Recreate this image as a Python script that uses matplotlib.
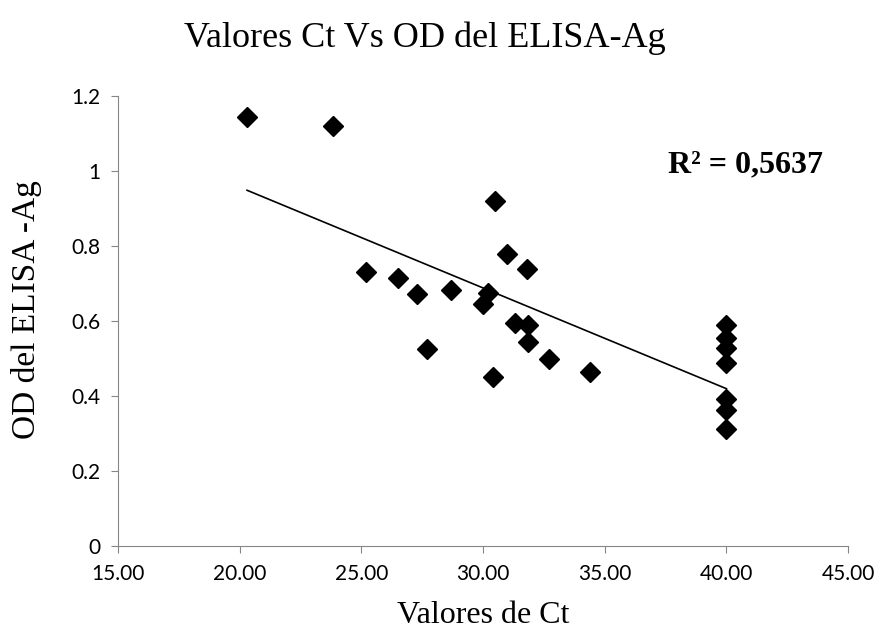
import numpy as np
import matplotlib.pyplot as plt

# Ct values vs ELISA-Ag optical density
ct = [20.3, 23.85, 25.2, 26.5, 27.3, 28.7, 27.7, 30.0, 30.2, 30.5, 31.0, 31.8,
      31.3, 31.85, 31.85, 30.4, 32.7, 34.4, 40, 40, 40, 40, 40, 40, 40]
od = [1.143, 1.12, 0.730, 0.714, 0.673, 0.683, 0.525, 0.645, 0.675, 0.921, 0.778, 0.739,
      0.594, 0.589, 0.545, 0.450, 0.498, 0.464, 0.589, 0.554, 0.527, 0.487, 0.391, 0.363, 0.311]
r2_label = "R² = 0,5637"

x_ticks = [15, 20, 25, 30, 35, 40, 45]
y_ticks = [0, 0.2, 0.4, 0.6, 0.8, 1, 1.2]

fig = plt.figure(figsize=(8.88, 6.4), dpi=100)
ax = fig.add_axes([0.133, 0.147, 0.822, 0.703])

ax.plot(ct, od, "D", color="black", markersize=10)

# linear trendline over the data range
coef = np.polyfit(ct, od, 1)
xs = np.array([min(ct), max(ct)])
ax.plot(xs, np.polyval(coef, xs), color="black", lw=1.2)

ax.set_xlim(15, 45)
ax.set_ylim(0, 1.2)
ax.set_xticks(x_ticks)
ax.set_xticklabels(["%.2f" % v for v in x_ticks], family="Lato", fontsize=15)
ax.set_yticks(y_ticks)
ax.set_yticklabels([("%g" % v) for v in y_ticks], family="Lato", fontsize=15)

for s in ["top", "right"]:
    ax.spines[s].set_visible(False)
for s in ["left", "bottom"]:
    ax.spines[s].set_color("#868686")
ax.tick_params(axis="both", direction="out", length=5, color="#868686", pad=8)

# title sits a bit left of the axes centre, like the excel original
fig.text(0.479, 0.927, "Valores Ct Vs OD del ELISA-Ag", family="Liberation Serif",
         fontsize=26, ha="center", va="baseline")
ax.set_xlabel("Valores de Ct", family="Liberation Serif", fontsize=23, labelpad=12)
fig.text(0.030, 0.516, "OD del ELISA -Ag", family="Liberation Serif", fontsize=24,
         rotation=90, ha="center", va="center")
ax.text(37.6, 0.995, r2_label, family="Liberation Serif", fontsize=23,
        fontweight="bold", va="baseline")

fig.savefig("out.png", dpi=100)
